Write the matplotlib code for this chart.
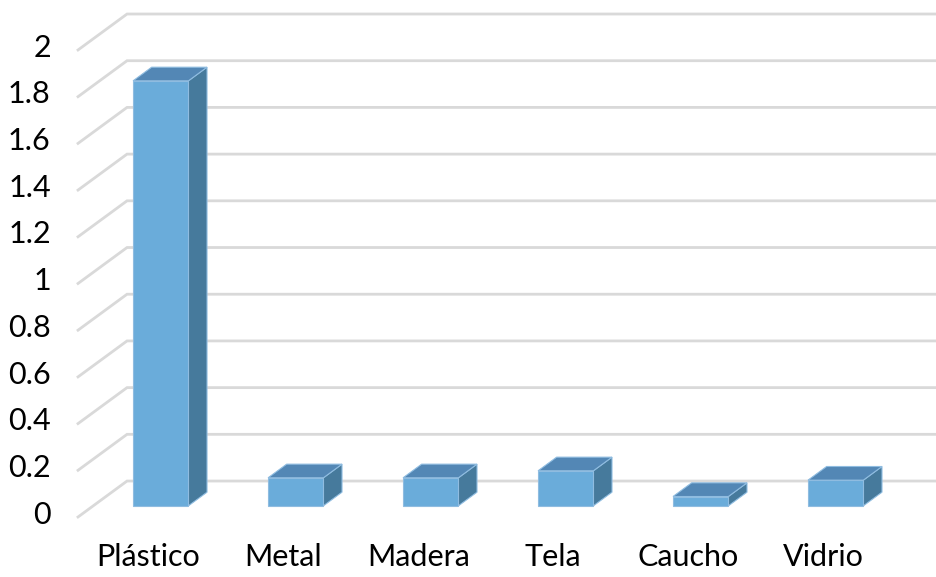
import matplotlib.pyplot as plt
from matplotlib.patches import Polygon

categories = ["Plástico", "Metal", "Madera", "Tela", "Caucho", "Vidrio"]
values = [1.82, 0.12, 0.12, 0.15, 0.04, 0.11]
y_ticks = [0, 0.2, 0.4, 0.6, 0.8, 1, 1.2, 1.4, 1.6, 1.8, 2]
y_tick_labels = ["0", "0.2", "0.4", "0.6", "0.8", "1", "1.2", "1.4", "1.6", "1.8", "2"]

plt.rcParams['font.family'] = ['Lato', 'DejaVu Sans']

# oblique depth: offset of the front edge relative to the back wall (data units)
FX, FY = -0.363, -0.154
D_FRONT, D_BACK = 0.69, 0.31
HALF_W = 0.205

front_col = "#6aacda"
top_col = "#5387b5"
side_col = "#467a9c"
edge_col = "#8fbce0"
grid_col = "#d9d9d9"


def proj(x, v, d):
    return (x + d * FX, v + d * FY)


fig = plt.figure(figsize=(9.37, 5.77), dpi=100)
ax = fig.add_axes([0, 0, 1, 1])
ax.set_xlim(-0.941, 6.0)
ax.set_ylim(-0.411, 2.060)
ax.axis("off")

n = len(categories)

# back wall gridlines plus the slanted lines on the side wall
for t, lab in zip(y_ticks, y_tick_labels):
    ax.plot([n, 0, FX], [t, t, t + FY], color=grid_col, lw=2, zorder=1,
            solid_joinstyle="miter")
    ax.text(-0.565, t + FY + 0.01, lab, ha="right", va="center", fontsize=22,
            color="black")

for i, (cat, v) in enumerate(zip(categories, values)):
    xc = i + 0.5
    xl, xr = xc - HALF_W, xc + HALF_W
    front = [proj(xl, 0, D_FRONT), proj(xr, 0, D_FRONT),
             proj(xr, v, D_FRONT), proj(xl, v, D_FRONT)]
    top = [proj(xl, v, D_FRONT), proj(xr, v, D_FRONT),
           proj(xr, v, D_BACK), proj(xl, v, D_BACK)]
    side = [proj(xr, 0, D_FRONT), proj(xr, 0, D_BACK),
            proj(xr, v, D_BACK), proj(xr, v, D_FRONT)]
    for pts, col in ((side, side_col), (top, top_col), (front, front_col)):
        ax.add_patch(Polygon(pts, closed=True, facecolor=col,
                             edgecolor=edge_col, lw=0.8, zorder=3))
    ax.text(xc + FX + 0.02, -0.325, cat, ha="center", va="center", fontsize=22,
            color="black")

fig.savefig("out.png", dpi=100)
